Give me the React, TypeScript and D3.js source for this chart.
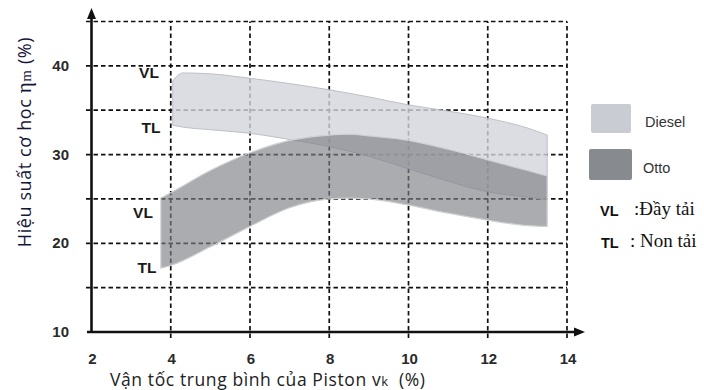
import React from "react";
import * as d3 from "d3";

// Diesel band (upper = VL full load, lower = TL part load)
const dieselX = [4.05, 4.3, 5, 6, 7, 8, 9, 10, 11, 12, 13, 13.5];
const dieselVL = [38.3, 39.2, 39.1, 38.6, 38.0, 37.3, 36.5, 35.6, 34.9, 34.1, 33.0, 32.2];
const dieselTL = [33.3, 33.1, 32.8, 32.4, 31.7, 30.9, 29.8, 28.4, 27.0, 25.8, 25.2, 24.9];

// Otto band
const ottoX = [3.75, 4, 5, 6, 7, 8, 8.5, 9, 10, 11, 12, 13, 13.5];
const ottoVL = [25.1, 25.7, 28.2, 30.2, 31.6, 32.2, 32.3, 32.1, 31.6, 30.6, 29.4, 28.2, 27.6];
const ottoTL = [17.2, 17.5, 19.6, 21.9, 24.0, 25.0, 25.1, 25.0, 24.3, 23.4, 22.6, 22.0, 21.9];

const xTicks = [2, 4, 6, 8, 10, 12, 14];
const yGrid = [15, 20, 25, 30, 35, 40, 45];
const yLabels = [10, 20, 30, 40];

// band end labels: [text, x, y] in data units
const bandLabels: [string, number, number][] = [
  ["VL", 3.45, 39.2],
  ["TL", 3.5, 33.1],
  ["VL", 3.3, 23.5],
  ["TL", 3.4, 17.3],
];

const W = 704;
const H = 390;

export default function App() {
  const x = d3.scaleLinear().domain([2, 14]).range([91.5, 567]);
  const y = d3.scaleLinear().domain([10, 45]).range([332, 21.5]);

  const band = (xs: number[], lo: number[], hi: number[]) =>
    d3
      .area<number>()
      .x((_, i) => x(xs[i]))
      .y0((_, i) => y(lo[i]))
      .y1((_, i) => y(hi[i]))
      .curve(d3.curveMonotoneX)(xs)!;

  const sans = "'Liberation Sans', Arial, sans-serif";
  const title = "'Open Sans', Lato, sans-serif";
  const serif = "'Liberation Serif', 'DejaVu Serif', serif";

  return (
    <svg
      width={W}
      height={H}
      style={{ position: "absolute", left: 0, top: 0, background: "#fff" }}
    >
      {/* grid */}
      <g stroke="#111" strokeWidth={1.7} strokeDasharray="4.5,3" fill="none">
        {yGrid.map((v) => (
          <line key={"h" + v} x1={86} x2={x(14)} y1={y(v)} y2={y(v)} />
        ))}
        {xTicks.slice(1).map((v) => (
          <line key={"v" + v} x1={x(v)} x2={x(v)} y1={338} y2={y(45)} />
        ))}
      </g>

      {/* bands */}
      <path
        d={band(dieselX, dieselTL, dieselVL)}
        fill="#d3d5db"
        fillOpacity={0.8}
        stroke="#bec0c6"
        strokeWidth={1}
      />
      <path
        d={band(ottoX, ottoTL, ottoVL)}
        fill="#7c8086"
        fillOpacity={0.65}
        stroke="#cfd1d3"
        strokeWidth={1.2}
      />

      {/* axes */}
      <g stroke="#111" strokeWidth={2.6}>
        <line x1={x(2)} x2={x(2)} y1={333} y2={16} />
        <line x1={87} x2={576} y1={y(10)} y2={y(10)} />
      </g>
      <polygon
        points={`${x(2)},8 ${x(2) - 4.5},19 ${x(2) + 4.5},19`}
        fill="#111"
      />
      <polygon points={`585,${y(10)} 574,${y(10) - 4.5} 574,${y(10) + 4.5}`} fill="#111" />

      {/* tick labels */}
      <g fontFamily={sans} fontWeight="bold" fontSize={15} fill="#2a2a2a">
        {xTicks.map((v) => (
          <text key={"xt" + v} x={x(v) + 1} y={364} textAnchor="middle">
            {v}
          </text>
        ))}
        {yLabels.map((v) => (
          <text key={"yt" + v} x={69} y={y(v) + 5} textAnchor="end">
            {v}
          </text>
        ))}
      </g>

      {/* VL / TL band labels */}
      <g fontFamily={sans} fontWeight="bold" fontSize={15.5} fill="#1a1a1a">
        {bandLabels.map(([t, lx, ly], i) => (
          <text key={"bl" + i} x={x(lx)} y={y(ly) + 5.5} textAnchor="middle">
            {t}
          </text>
        ))}
      </g>

      {/* axis titles */}
      <text
        transform={`translate(31,142) rotate(-90)`}
        textAnchor="middle"
        fontFamily={title}
        fontSize={18}
        letterSpacing={0.6}
        fill="#16163a"
      >
        Hiệu suất cơ học{" "}
        <tspan fontFamily={serif} fontSize={21}>
          η
        </tspan>
        <tspan fontFamily={serif} fontSize={15}>
          m
        </tspan>{" "}
        (%)
      </text>
      <text
        x={110}
        y={386}
        fontFamily={title}
        fontSize={17.5}
        letterSpacing={0.6}
        fill="#222"
      >
        Vận tốc trung bình của Piston v
        <tspan fontSize={13}>k</tspan>
        {"\u00a0\u00a0(%)"}
      </text>

      {/* legend */}
      <rect x={591} y={104} width={40} height={29} rx={2} fill="#c9ccd3" />
      <text x={645} y={127} fontFamily={sans} fontSize={14.5} fill="#333">
        Diesel
      </text>
      <rect x={589} y={149} width={43} height={31} rx={2} fill="#878b90" />
      <text x={643} y={173} fontFamily={sans} fontSize={14.5} fill="#333">
        Otto
      </text>
      <text x={600} y={216} fontFamily={sans} fontWeight="bold" fontSize={14.5} fill="#111">
        VL
      </text>
      <text x={634} y={215} fontFamily={serif} fontSize={19} fill="#111">
        :Đầy tải
      </text>
      <text x={601} y={248} fontFamily={sans} fontWeight="bold" fontSize={14.5} fill="#111">
        TL
      </text>
      <text x={630} y={247} fontFamily={serif} fontSize={19} fill="#111">
        : Non tải
      </text>
    </svg>
  );
}
